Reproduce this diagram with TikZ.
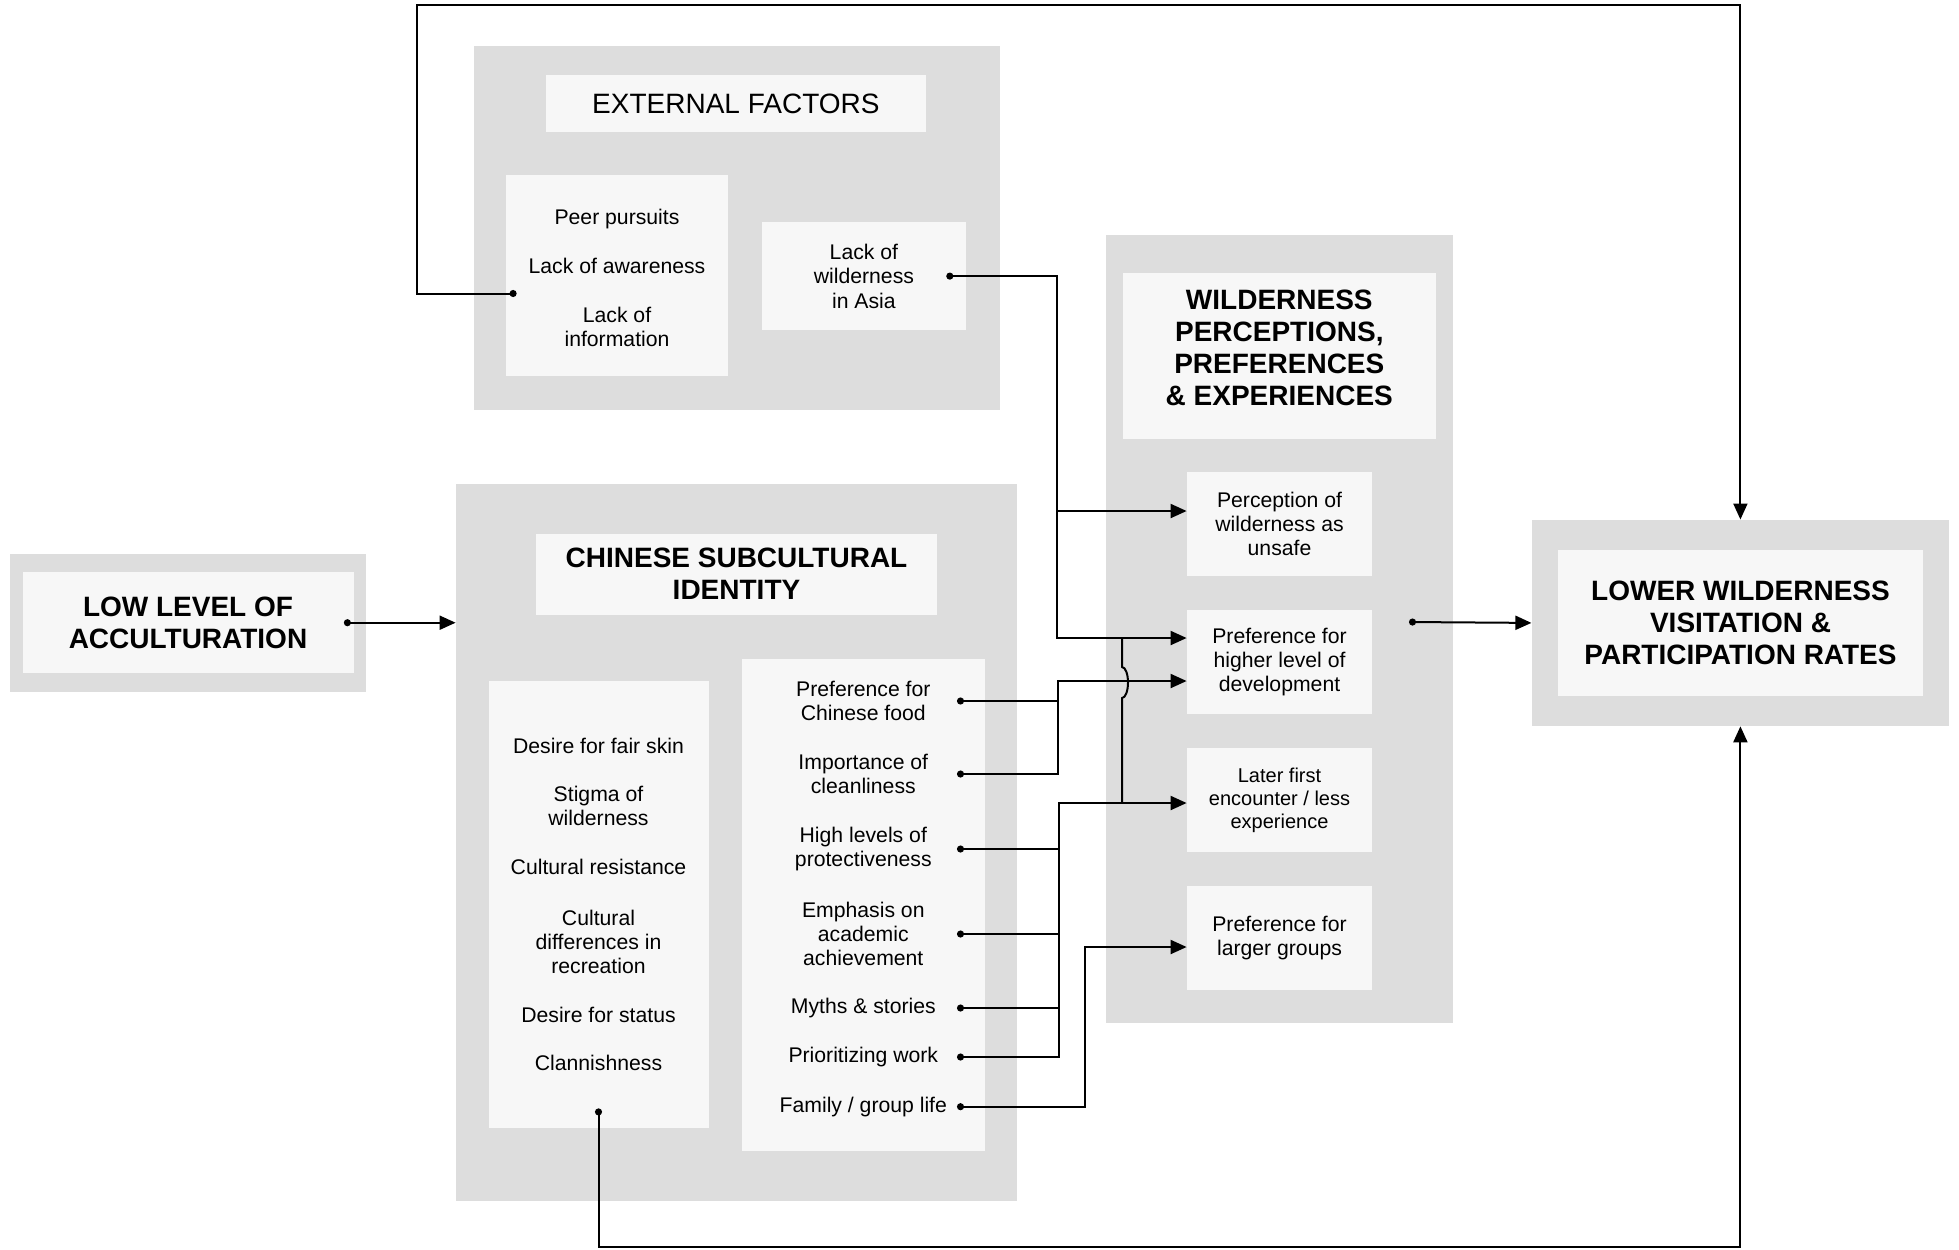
\documentclass[tikz,border=0pt]{standalone}
\usepackage{fontspec}
\setmainfont{Liberation Sans}
\usepackage{tikz}
\usetikzlibrary{arrows.meta}
\definecolor{panelgray}{RGB}{221,221,221}
\definecolor{boxgray}{RGB}{247,247,247}
\tikzset{>={Triangle[length=8pt,width=7pt]}}
\tikzset{
  panel/.style={fill=panelgray, inner sep=0pt},
  inbox/.style={fill=boxgray, inner sep=0pt},
  txt/.style={align=center, font=\fontsize{10.6}{12.2}\selectfont},
  ttl/.style={align=center, font=\fontsize{14}{16.1}\selectfont},
  head/.style={align=center, font=\fontsize{14}{16.1}\selectfont\bfseries},
  link/.style={line width=1pt},
  dotlink/.style={link, {Circle[length=3.5pt]}-},
  dotarrow/.style={link, {Circle[length=3.5pt]}->}
}

\begin{document}
\begin{tikzpicture}[x=50pt, y=50pt]
            \useasboundingbox (0,0) rectangle (19.59,-12.49);

            % grey panels
            \node[panel, minimum width=263pt, minimum height=182pt] (ext) at (7.365,-2.28) {};
            \node[panel, minimum width=280.5pt, minimum height=358.6pt] (chin) at (7.365,-8.421) {};
            \node[panel, minimum width=173.7pt, minimum height=394pt] (wild) at (12.794,-6.29) {};
            \node[panel, minimum width=178pt, minimum height=69.3pt] (low) at (1.88,-6.228) {};
            \node[panel, minimum width=208.6pt, minimum height=103pt] (lower) at (17.404,-6.229) {};

            % external factors
            \node[inbox, ttl, minimum width=190pt, minimum height=28.7pt] (exthead) at (7.359,-1.037) {EXTERNAL FACTORS};
            \node[inbox, minimum width=111.2pt, minimum height=100.5pt] (peer) at (6.172,-2.755) {};
            \node[inbox, txt, minimum width=102pt, minimum height=53.7pt] (asia) at (8.639,-2.761) {Lack of\\wilderness\\in Asia};
            \node[txt] (pursuits) at (6.17,-2.19) {Peer pursuits};
            \node[txt] (awareness) at (6.17,-2.66) {Lack of awareness};
            \node[txt] (information) at (6.17,-3.27) {Lack of\\information};

            % wilderness perceptions
            \node[inbox, minimum width=156.3pt, minimum height=83pt] (wildhead) at (12.793,-3.555) {};
            \node[head] (wildtitle) at (12.793,-3.48) {WILDERNESS\\PERCEPTIONS,\\PREFERENCES\\\& EXPERIENCES};
            \node[inbox, txt, minimum width=92.5pt, minimum height=52pt] (unsafe) at (12.795,-5.24) {Perception of\\wilderness as\\unsafe};
            \node[inbox, txt, minimum width=92.5pt, minimum height=52pt] (develop) at (12.795,-6.62) {Preference for\\higher level of\\development};
            \node[inbox, txt, font=\fontsize{10}{11.5}\selectfont, minimum width=92.5pt, minimum height=52pt] (later) at (12.795,-8.0) {Later first\\encounter / less\\experience};
            \node[inbox, txt, minimum width=92.5pt, minimum height=52pt] (groups) at (12.795,-9.38) {Preference for\\larger groups};

            % start and end
            \node[inbox, head, minimum width=165.5pt, minimum height=50.7pt] (lowin) at (1.88,-6.227) {LOW LEVEL OF\\ACCULTURATION};
            \node[inbox, head, minimum width=182.5pt, minimum height=73pt] (lowerin) at (17.405,-6.229) {LOWER WILDERNESS\\VISITATION \&\\PARTICIPATION RATES};

            % chinese subcultural identity
            \node[inbox, head, minimum width=200.5pt, minimum height=40.6pt] (chinhead) at (7.365,-5.741) {CHINESE SUBCULTURAL\\IDENTITY};
            \node[inbox, minimum width=110pt, minimum height=223.5pt] (leftcol) at (5.985,-9.045) {};
            \node[inbox, minimum width=121.25pt, minimum height=246pt] (rightcol) at (8.633,-9.046) {};

            \node[txt] (fairskin) at (5.985,-7.46) {Desire for fair skin};
            \node[txt] (stigma) at (5.985,-8.06) {Stigma of\\wilderness};
            \node[txt] (resistance) at (5.985,-8.67) {Cultural resistance};
            \node[txt] (differences) at (5.985,-9.42) {Cultural\\differences in\\recreation};
            \node[txt] (status) at (5.985,-10.145) {Desire for status};
            \node[txt] (clannish) at (5.985,-10.63) {Clannishness};

            \node[txt] (food) at (8.633,-7.01) {Preference for\\Chinese food};
            \node[txt] (clean) at (8.633,-7.74) {Importance of\\cleanliness};
            \node[txt] (protect) at (8.633,-8.49) {High levels of\\protectiveness};
            \node[txt] (emphasis) at (8.633,-9.34) {Emphasis on\\academic\\achievement};
            \node[txt] (myths) at (8.633,-10.08) {Myths \& stories};
            \node[txt] (work) at (8.633,-10.57) {Prioritizing work};
            \node[txt] (family) at (8.633,-11.067) {Family / group life};

            % helper points for the wires
            \coordinate (dx) at (9.57,0);
            \coordinate (j0) at (10.57,0);
            \coordinate (j1) at (10.58,0);
            \coordinate (j2) at (10.59,0);
            \coordinate (j3) at (10.85,0);
            \coordinate (hop) at (11.22,0);
            \coordinate (top) at (4.173,-0.05);
            \coordinate (bot) at (0,-12.47);
            \coordinate (wdot) at (14.09,-6.22);
            \coordinate (t1) at ([yshift=6.5pt]unsafe.west);
            \coordinate (t2) at ([yshift=12pt]develop.west);
            \coordinate (t3) at ([yshift=-9.5pt]develop.west);
            \coordinate (t4) at ([yshift=-1.5pt]later.west);
            \coordinate (t5) at ([yshift=-4.5pt]groups.west);

            % wires
            \draw[dotarrow] ([shift={(5.5pt,-9pt)}]peer.west) -| (top) -| (lower.north);
            \draw[dotarrow] ([xshift=-10pt]asia.east) -| (t2 -| j0) -- (t2);
            \draw[link, ->] (t1 -| j0) -- (t1);
            \draw[link] (t2 -| hop) -- ++(0,-0.29) arc[start angle=90, end angle=-90, x radius=0.06, y radius=0.155] -- (t4 -| hop);
            \draw[dotarrow] ([xshift=-5pt]lowin.east) -- (lowin.east -| chin.west);

            \draw[dotlink] (food -| dx) -- (food -| j1);
            \draw[dotarrow] (clean -| dx) -| (t3 -| j1) -- (t3);
            \draw[dotlink] (protect -| dx) -- (protect -| j2);
            \draw[dotlink] (emphasis -| dx) -- (emphasis -| j2);
            \draw[dotlink] (myths -| dx) -- (myths -| j2);
            \draw[dotarrow] (work -| dx) -| (t4 -| j2) -- (t4);
            \draw[dotarrow] (family -| dx) -| (t5 -| j3) -- (t5);

            \draw[dotarrow] (wdot) -- (lower.west);
            \draw[dotarrow] ([yshift=10pt]leftcol.south) -- (leftcol.south |- bot) -| (lower.south);

        \end{tikzpicture}
\end{document}
